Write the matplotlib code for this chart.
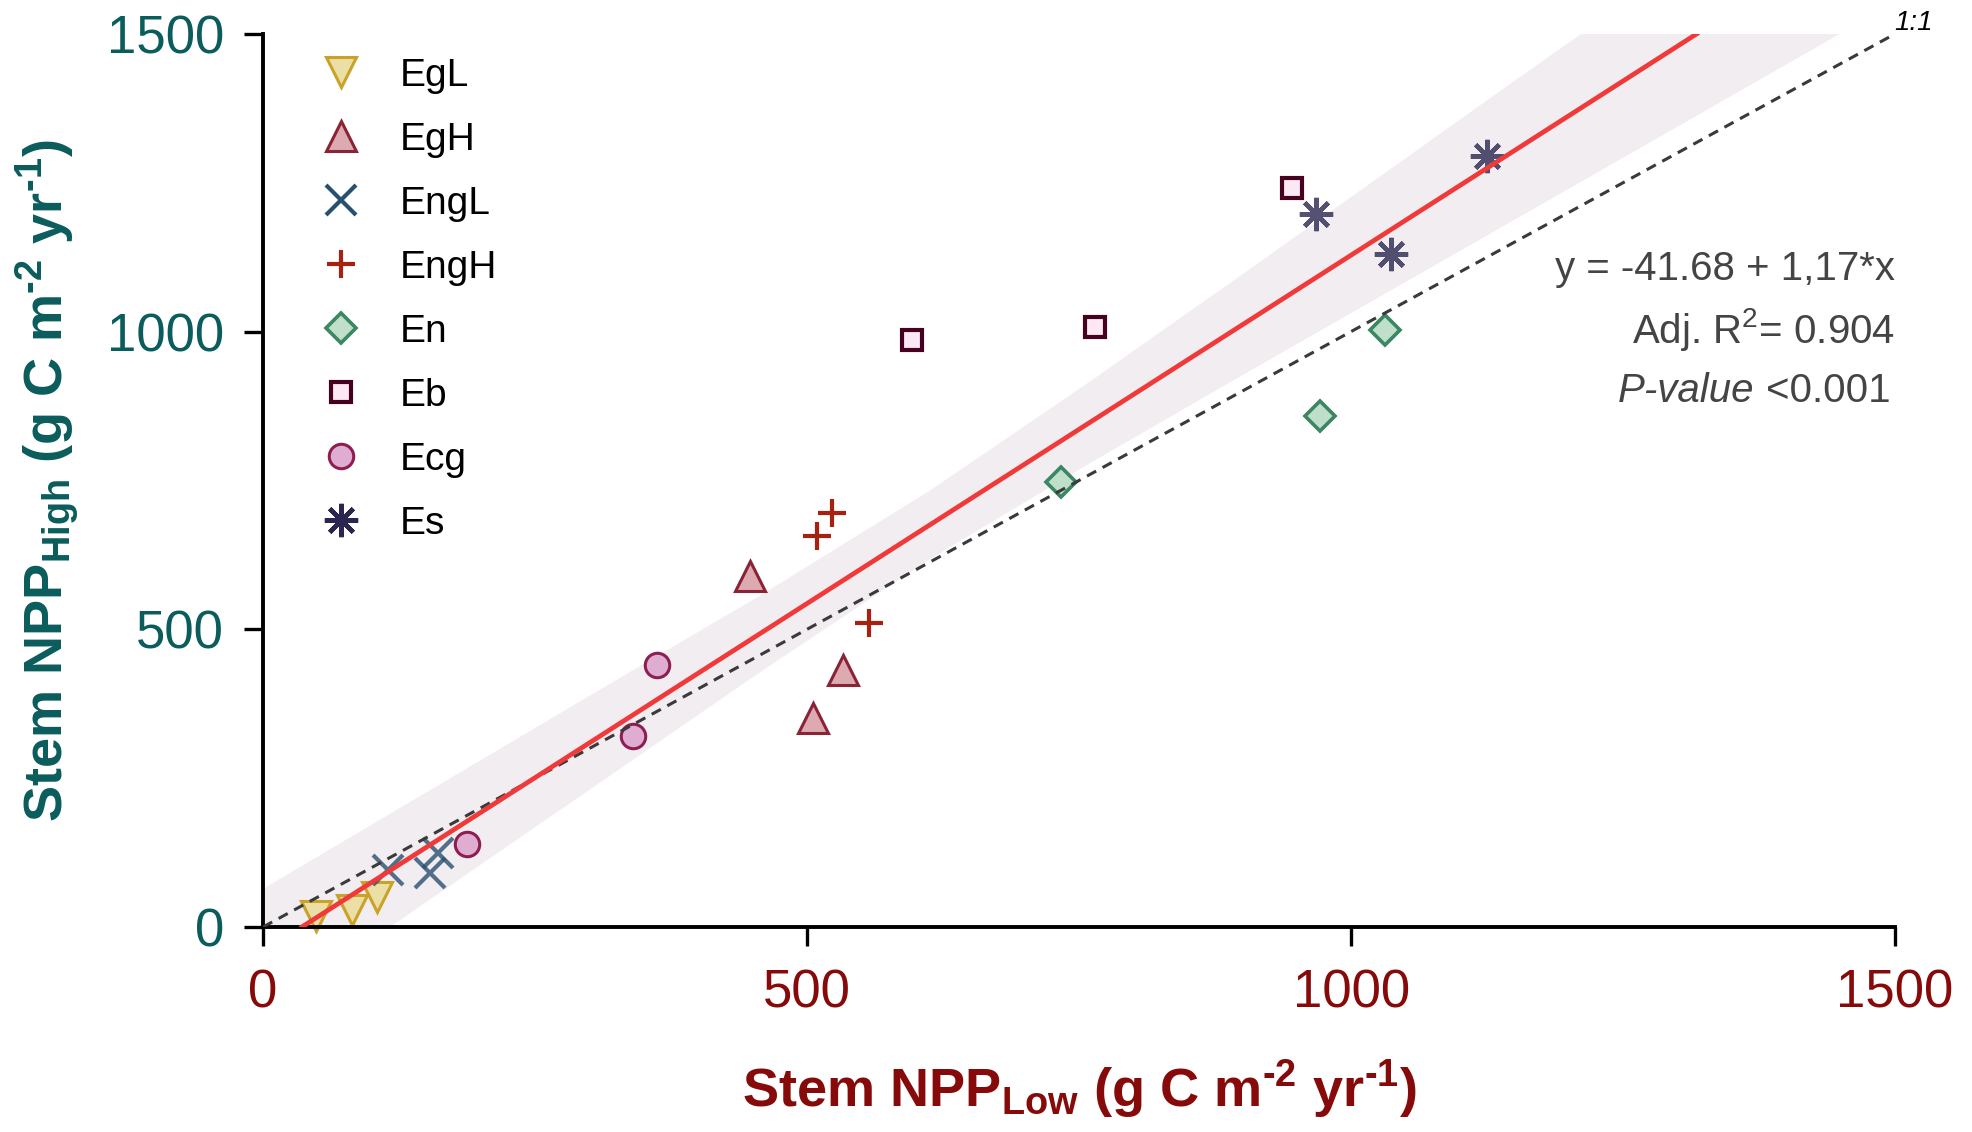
import matplotlib
matplotlib.use("Agg")
import matplotlib.pyplot as plt
from matplotlib.lines import Line2D

plt.rcParams["font.family"] = "Liberation Sans"
plt.rcParams["mathtext.fontset"] = "custom"
plt.rcParams["mathtext.rm"] = "Liberation Sans"
plt.rcParams["mathtext.it"] = "Liberation Sans:italic"
plt.rcParams["mathtext.bf"] = "Liberation Sans:bold"

# stem NPP per group (x = low, y = high), g C m-2 yr-1
GROUPS = ["EgL", "EgH", "EngL", "EngH", "En", "Eb", "Ecg", "Es"]
egl_x = [49, 82, 105]
egl_y = [19, 29, 50]
egh_x = [448, 533, 505]
egh_y = [589, 432, 351]
engl_x = [115, 153, 161]
engl_y = [96, 91, 124]
engh_x = [509, 523, 557]
engh_y = [657, 695, 510]
en_x = [733, 971, 1031]
en_y = [747, 859, 1002]
eb_x = [596, 765, 946]
eb_y = [985, 1008, 1241]
ecg_x = [187, 340, 362]
ecg_y = [139, 320, 440]
es_x = [968, 1037, 1125]
es_y = [1198, 1130, 1295]

# fit reported on the chart
fit_intercept = -41.68
fit_slope = 1.17

# confidence band edges
band_x = [0, 150, 310, 460, 613, 760, 907, 1137, 1300, 1500]
band_lo = [-148, 42, 243, 432, 618, 779, 934, 1174, 1344, 1553]
band_hi = [64, 226, 399, 560, 733, 916, 1105, 1404, 1614, 1873]

AX_MAX = 1500
TICKS = [0, 500, 1000, 1500]

STYLE = {
    "EgL": dict(marker="v", ms=10.5, mec="#c9a227", mfc="#ebdfa6", mew=1.1),
    "EgH": dict(marker="^", ms=10.5, mec="#8c2236", mfc="#dcaab0", mew=1.1),
    "EngL": dict(marker="x", ms=10.5, mec="#29506e", mew=1.5),
    "EngH": dict(marker="+", ms=10, mec="#a8200e", mew=1.5),
    "En": dict(marker="D", ms=7.4, mec="#3b8763", mfc="#bfdfcb", mew=1.3),
    "Eb": dict(marker="s", ms=7.3, mec="#460020", mfc="#fce8f4", mew=1.5),
    "Ecg": dict(marker="o", ms=8.8, mec="#8e1e50", mfc="#dfadd2", mew=1.1),
    "Es": dict(marker=(8, 2, 0), ms=12, mec="#2a2650", mew=1.6),
}
DATA = {
    "EgL": (egl_x, egl_y), "EgH": (egh_x, egh_y), "EngL": (engl_x, engl_y),
    "EngH": (engh_x, engh_y), "En": (en_x, en_y), "Eb": (eb_x, eb_y),
    "Ecg": (ecg_x, ecg_y), "Es": (es_x, es_y),
}
ALPHA = {"EngL": 0.8, "Es": 0.8}

Y_COLOR = "#0b5c5c"
X_COLOR = "#870a0a"
HY = "\u2010"  # short hyphen for the unit exponents

fig = plt.figure(figsize=(9.86, 5.66), dpi=200)
ax = fig.add_axes([0.1334, 0.1811, 0.8276, 0.789])

ax.fill_between(band_x, band_lo, band_hi, color="#f1edf1", lw=0, zorder=1)

for g in GROUPS:
    xs, ys = DATA[g]
    ax.plot(xs, ys, ls="none", alpha=ALPHA.get(g, 1.0), clip_on=False,
            zorder=2, **STYLE[g])

ax.plot([0, AX_MAX], [0, AX_MAX], color="#3a3a3a", lw=1.1,
        dashes=(3.4, 2.4), zorder=3)
x_start = -fit_intercept / fit_slope
x_end = (AX_MAX - fit_intercept) / fit_slope
ax.plot([x_start, x_end],
        [fit_intercept + fit_slope * x_start, fit_intercept + fit_slope * x_end],
        color="#f03a3a", lw=1.7, zorder=3)

ax.annotate("1:1", xy=(AX_MAX, AX_MAX), xytext=(6.5, 4),
            textcoords="offset points", ha="center", va="center",
            fontsize=10, style="italic", annotation_clip=False)

ax.set_xlim(0, AX_MAX)
ax.set_ylim(0, AX_MAX)
ax.set_xticks(TICKS)
ax.set_yticks(TICKS)
for side in ["top", "right"]:
    ax.spines[side].set_visible(False)
for side in ["left", "bottom"]:
    ax.spines[side].set_linewidth(1.4)
ax.tick_params(direction="out", length=7, width=1.2, labelsize=19)
ax.tick_params(axis="x", pad=8, labelcolor=X_COLOR)
ax.tick_params(axis="y", pad=7, labelcolor=Y_COLOR)

unit = r" (g C m$^{\mathbf{" + HY + r"2}}$ yr$^{\mathbf{" + HY + r"1}}$)"
ax.text(0.5, -0.1814, r"Stem NPP$_{\mathbf{Low}}$" + unit,
        transform=ax.transAxes, ha="center", va="center", fontsize=19.5,
        fontweight="bold", color=X_COLOR)
ax.text(-0.1317, 0.5, r"Stem NPP$_{\mathbf{High}}$" + unit,
        transform=ax.transAxes, ha="center", va="center", rotation=90,
        fontsize=19.5, fontweight="bold", color=Y_COLOR)

txt_kw = dict(transform=ax.transAxes, ha="right", va="baseline",
              fontsize=14.5, color="#444444")
ax.text(1.0, 0.7245, "y = -41.68 + 1,17*x", **txt_kw)
ax.text(1.0, 0.654, r"Adj. R$^{2}$= 0.904", **txt_kw)
pv = ax.text(0.997, 0.588, "<0.001", **txt_kw)
ax.annotate("P-value", xy=(0, 0), xycoords=pv, xytext=(-4, 0),
            textcoords="offset points", ha="right", va="bottom",
            fontsize=14.5, color="#444444", style="italic")

handles = []
for g in GROUPS:
    handles.append(Line2D([], [], ls="none", **STYLE[g]))
ax.legend(handles, GROUPS, loc="upper left", bbox_to_anchor=(0.036, 0.973),
          frameon=False, fontsize=14, handlelength=1.0, handletextpad=1.0,
          labelspacing=0.72, borderpad=0, borderaxespad=0)

fig.savefig("out.png", dpi=200)
